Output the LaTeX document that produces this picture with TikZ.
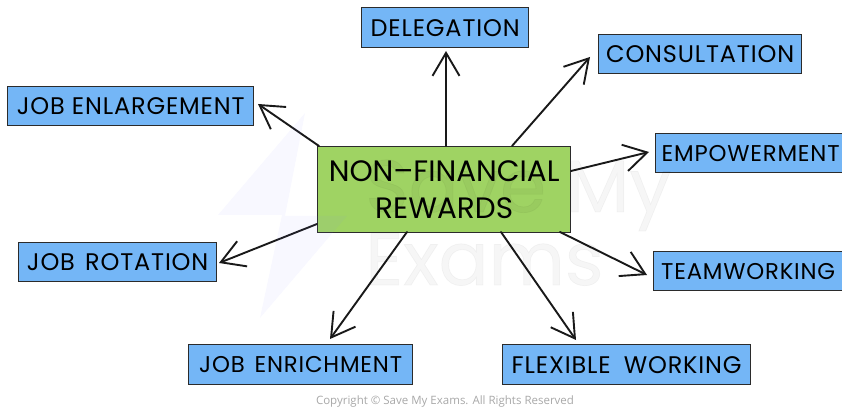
\documentclass[tikz,border=0pt]{standalone}
\usepackage{fontspec}
\setmainfont{Poppins}
\newfontfamily\leaffont{Poppins}[LetterSpace=3.5]
\newfontfamily\wmfont{Poppins}[FakeBold=1]
\newfontfamily\copyfont{Open Sans}
\usetikzlibrary{arrows.meta}
\definecolor{boxblue}{HTML}{74B6F6}
\definecolor{boxgreen}{HTML}{9FD363}
\definecolor{edgeink}{HTML}{2B2B2B}
\definecolor{copyink}{HTML}{A8A8A8}
\tikzset{
  x=1pt,y=-1pt,
  leaf/.style={draw=edgeink,line width=1.3pt,fill=boxblue,inner sep=0pt,anchor=north west,align=center,font=\leaffont\fontsize{24}{28}\selectfont},
  narrowleaf/.style={leaf,font=\leaffont\fontsize{22.8}{28}\selectfont},
  hub/.style={draw=edgeink,line width=1.3pt,fill=boxgreen,inner sep=0pt,anchor=north west,align=center,font=\fontsize{29.5}{37}\selectfont},
  arr/.style={draw=black!90,line width=1.9pt,line cap=round,-{Straight Barb[length=23pt,width=27pt,line width=1.9pt]}},
  wm/.style={opacity=.035,text=black,font=\wmfont\fontsize{74}{74}\selectfont,inner sep=0pt}
}
\begin{document}
\begin{tikzpicture}
\useasboundingbox (0,0) rectangle (842,411);
\node[leaf,minimum width=167pt,minimum height=40pt] (del) at (361,7) {DELEGATION};
\node[leaf,minimum width=203pt,minimum height=39pt] (con) at (598,34) {CONSULTATION};
\node[leaf,minimum width=246pt,minimum height=39pt] (enl) at (7,86) {JOB ENLARGEMENT};
\node[narrowleaf,minimum width=190pt,minimum height=39pt] (emp) at (655,133) {EMPOWERMENT};
\node[narrowleaf,minimum width=189pt,minimum height=39pt] (tea) at (653,251) {TEAMWORKING};
\node[leaf,minimum width=198pt,minimum height=39pt] (rot) at (18,242) {JOB\hspace{3pt} ROTATION};
\node[narrowleaf,minimum width=224pt,minimum height=40pt] (enr) at (188,344) {JOB\hspace{3pt} ENRICHMENT};
\node[leaf,minimum width=248pt,minimum height=40pt] (fle) at (502,344) {FLEXIBLE\hspace{6pt} WORKING};
\node[hub,minimum width=253pt,minimum height=86pt] (cen) at (317,146) {NON--FINANCIAL\\REWARDS};
\coordinate (sdel) at (446,146); \coordinate (tdel) at (446,51);
\coordinate (scon) at (512,146); \coordinate (tcon) at (590,57);
\coordinate (semp) at (571,171); \coordinate (temp) at (649,152);
\coordinate (stea) at (560,232); \coordinate (ttea) at (647,275);
\coordinate (sfle) at (501,232); \coordinate (tfle) at (576,340);
\coordinate (senr) at (407,232); \coordinate (tenr) at (330,339);
\coordinate (srot) at (317,224); \coordinate (trot) at (219,263);
\coordinate (senl) at (319,146); \coordinate (tenl) at (258,104);
\foreach \k in {del,con,emp,tea,fle,enr,rot,enl}{\draw[arr] (s\k) -- (t\k);}
% watermark
\fill[blue!50!white,opacity=.06] (305,113) -- (218,215) -- (282,215) -- (260,318) -- (347,216) -- (285,216) -- cycle;
\node[wm,anchor=base west] (wm1) at (365,212) {Save My};
\node[wm,anchor=base west] (wm2) at (365,285) {Exams};
\node[text=copyink,inner sep=0pt,font=\copyfont\fontsize{11.5}{13}\selectfont] (copy) at (445,402) {Copyright © Save My Exams. All Rights Reserved};
\end{tikzpicture}
\end{document}
